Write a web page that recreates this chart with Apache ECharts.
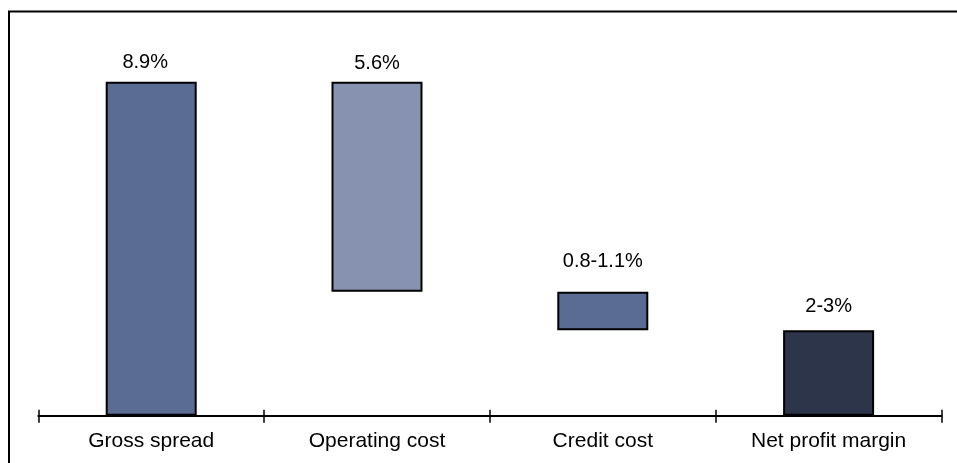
<!DOCTYPE html>
<html>
<head>
<meta charset="utf-8">
<script src="https://cdn.jsdelivr.net/npm/echarts@6/dist/echarts.min.js"></script>
<style>
html,body{margin:0;padding:0;background:#fff;}
#c{width:957px;height:463px;}
</style>
</head>
<body>
<div id="c"></div>
<script>
var categories = ['Gross spread', 'Operating cost', 'Credit cost', 'Net profit margin'];
var baseValues = [0, 3.3, 2.28, 0];
var barValues = [8.9, 5.6, 1.02, 2.28];
var labelTexts = ['8.9%', '5.6%', '0.8-1.1%', '2-3%'];
var barColors = ['#5A6B94', '#8692B0', '#5A6B94', '#2C3549'];
var labelDistances = [9, 8, 20, 13.5];
var labelOffsets = [[-6, 0], [0, 0], [0, 0], [0, 0]];

var chart = echarts.init(document.getElementById('c'), null, {renderer: 'canvas'});
var FONT = 'Liberation Sans, Arial, sans-serif';

chart.setOption({
  animation: false,
  backgroundColor: '#fff',
  graphic: [{
    type: 'polyline',
    shape: {points: [[9, 470], [9, 11.5], [970, 11.5]]},
    style: {stroke: '#000', lineWidth: 2, fill: null},
    silent: true
  }],
  grid: {left: 38.3, right: 15.5, top: 81.7, bottom: 47.3},
  xAxis: [{
    type: 'category',
    data: categories,
    axisLine: {show: true, lineStyle: {color: '#000', width: 2}},
    axisTick: {show: true, length: 7, lineStyle: {color: '#000', width: 1.5}},
    axisLabel: {color: '#000', fontFamily: FONT, fontSize: 21, margin: 15}
  }, {
    type: 'category',
    data: categories,
    position: 'bottom',
    axisLine: {show: false},
    axisTick: {show: true, inside: true, length: 6, lineStyle: {color: '#000', width: 1.5}},
    axisLabel: {show: false}
  }],
  yAxis: {type: 'value', min: 0, max: 8.9, show: false},
  series: [{
    type: 'bar',
    stack: 'w',
    barWidth: 91,
    silent: true,
    itemStyle: {color: 'transparent'},
    data: baseValues
  }, {
    type: 'bar',
    stack: 'w',
    barWidth: 91,
    data: barValues.map(function (v, i) {
      return {
        value: v,
        itemStyle: {color: barColors[i], borderColor: '#000', borderWidth: 2},
        label: {
          show: true,
          position: 'top',
          distance: labelDistances[i],
          offset: labelOffsets[i],
          formatter: labelTexts[i],
          color: '#000',
          fontFamily: FONT,
          fontSize: 20
        }
      };
    })
  }]
});
</script>
</body>
</html>
